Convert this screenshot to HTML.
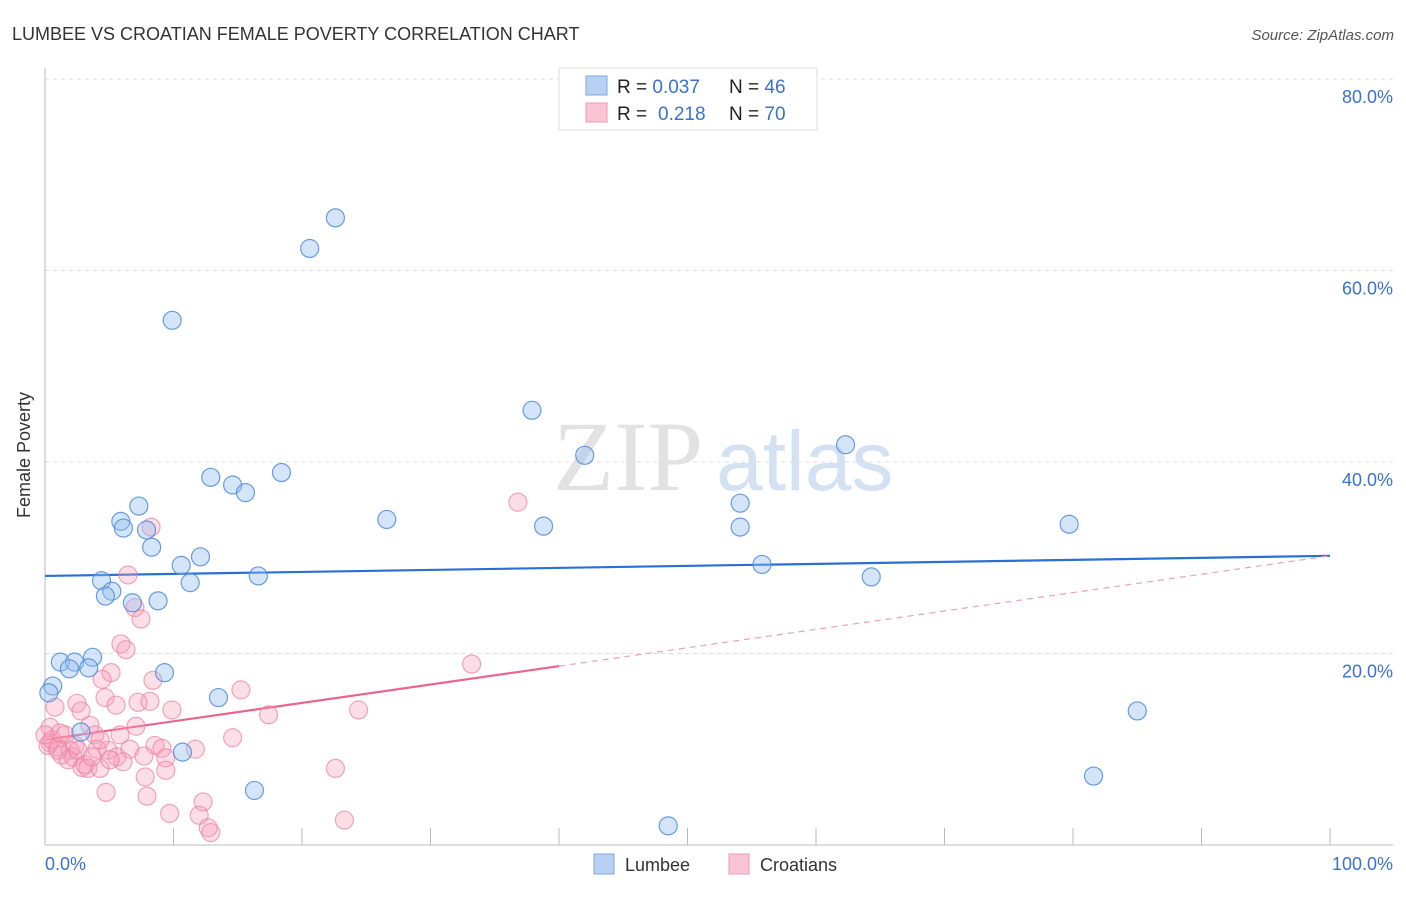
<!DOCTYPE html>
<html><head><meta charset="utf-8"><style>
body{margin:0;background:#fff;width:1406px;height:892px;overflow:hidden;font-family:"Liberation Sans",sans-serif}
svg text{font-family:"Liberation Sans",sans-serif}
</style></head><body>
<svg id="chart" width="1406" height="892" xmlns="http://www.w3.org/2000/svg">
<text x="12" y="40" font-size="18" fill="#333">LUMBEE VS CROATIAN FEMALE POVERTY CORRELATION CHART</text>
<text x="1394" y="40" font-size="15" fill="#555" font-style="italic" text-anchor="end">Source: ZipAtlas.com</text>
<g>
<text x="553" y="490" font-size="100" fill="#e2e2e2" font-family="Liberation Serif,serif" style="font-family:'Liberation Serif',serif">ZIP</text>
<text x="716" y="490" font-size="84" fill="#d3e1f3">atlas</text>
</g>
<g id="grid"></g>
<g id="axes"></g>
<g id="trends"></g>
<g id="points"></g>
<text x="30" y="455" font-size="18" fill="#333" text-anchor="middle" transform="rotate(-90 30 455)">Female Poverty</text>
<text x="45" y="870" font-size="18" fill="#3a72cc">0.0%</text>
<text x="1393" y="870" font-size="18" fill="#3a72cc" text-anchor="end">100.0%</text>
<g>
<rect x="559" y="68" width="258" height="62" fill="#fff" stroke="#ddd"/>
<rect x="586" y="76" width="21" height="19" fill="#b8d1f3" stroke="#7ba7e3"/>
<rect x="586" y="103" width="21" height="19" fill="#f9c4d3" stroke="#ee9ab5"/>
<text x="617" y="93" font-size="19" fill="#222">R = <tspan fill="#3a72cc">0.037</tspan><tspan x="729">N = </tspan><tspan fill="#3a72cc">46</tspan></text>
<text x="617" y="120" font-size="19" fill="#222">R = <tspan fill="#3a72cc" x="658">0.218</tspan><tspan x="729">N = </tspan><tspan fill="#3a72cc">70</tspan></text>
</g>
<g>
<rect x="594" y="854" width="20" height="20" fill="#b8d1f3" stroke="#7ba7e3"/>
<text x="625" y="871" font-size="18" fill="#333">Lumbee</text>
<rect x="729" y="854" width="20" height="20" fill="#f9c4d3" stroke="#ee9ab5"/>
<text x="760" y="871" font-size="18" fill="#333">Croatians</text>
</g>
</svg>
<script>
const yTicks=[20,40,60,80];
const yTickLabels=["20.0%","40.0%","60.0%","80.0%"];
const xTicks=[10,20,30,40,50,60,70,80,90,100];
const lumbeeX=[9.9,20.6,22.6,37.9,42.0,62.3,12.9,14.6,15.6,18.4,7.3,5.9,6.1,7.9,8.3,26.6,38.8,54.1,54.1,79.7,12.1,10.6,55.8,64.3,16.6,4.4,11.3,5.2,4.7,6.8,8.8,1.2,2.3,3.7,1.9,3.4,9.3,0.6,0.3,13.5,2.8,10.7,16.3,85.0,81.6,48.5];
const lumbeeY=[54.8,62.3,65.5,45.4,40.7,41.8,38.4,37.6,36.8,38.9,35.4,33.8,33.1,32.9,31.1,34.0,33.3,35.7,33.2,33.5,30.1,29.2,29.3,28.0,28.1,27.6,27.4,26.5,26.0,25.3,25.5,19.1,19.1,19.6,18.4,18.5,18.0,16.6,15.9,15.4,11.8,9.7,5.7,14.0,7.2,2.0];
const croatX=[8.25,6.46,7.0,7.47,5.91,6.3,5.14,4.44,8.4,15.25,4.67,5.53,2.49,2.8,7.24,8.17,9.88,24.4,17.4,7.08,3.5,0.39,5.84,3.89,1.56,14.6,0.39,1.0,1.95,4.05,4.9,5.6,6.6,8.56,9.1,11.7,7.7,9.4,2.18,2.88,3.35,4.28,6.07,9.4,7.8,22.6,4.75,7.94,12.3,9.7,12.0,23.3,12.7,12.9,36.8,33.2,0.78,0.23,1.3,2.33,3.1,0.54,1.8,4.28,2.57,1.17,3.66,5.06,0,1.0];
const croatY=[33.2,28.2,24.8,23.6,21.0,20.4,18.0,17.3,17.2,16.2,15.4,14.6,14.8,14.0,14.9,15.0,14.1,14.1,13.6,12.4,12.5,12.3,11.5,11.5,11.5,11.2,10.7,10.2,9.9,10.0,9.9,9.2,10.0,10.4,10.1,10.0,9.3,9.1,9.2,8.1,8.0,8.0,8.7,7.8,7.1,8.0,5.5,5.1,4.5,3.3,3.1,2.6,1.8,1.3,35.8,18.9,14.4,10.4,9.4,10.4,8.4,11.0,8.9,11.0,9.9,11.7,9.2,8.9,11.5,9.9];
const lumbeeTrend=[28.1,30.2];
const croatTrend=[11.0,30.2];
const croatSolidEnd=40;
const NS="http://www.w3.org/2000/svg";
const X0=45,X1=1330,Y0=845,YPX=9.575;
const sx=v=>X0+v*(X1-X0)/100;
const sy=v=>Y0-v*YPX;
function mk(t,a,p){const e=document.createElementNS(NS,t);for(const k in a)e.setAttribute(k,a[k]);p.appendChild(e);return e;}
const grid=document.getElementById('grid');
yTicks.forEach((v,i)=>{
 const l=mk('line',{x1:45,x2:1393,y1:sy(v),y2:sy(v),stroke:'#ddd','stroke-dasharray':'4,4'},grid);
 
 
 const t=mk('text',{x:1393,y:sy(v)+24,'font-size':18,fill:'#3a72cc','text-anchor':'end'},grid);
 t.textContent=yTickLabels[i];
 
 
});
const axes=document.getElementById('axes');
const ya=mk('line',{x1:45,x2:45,y1:68,y2:845,stroke:'#bbb'},axes);


const xa=mk('line',{x1:45,x2:1393,y1:845,y2:845,stroke:'#bbb'},axes);


xTicks.forEach(v=>{
 const t=mk('line',{x1:sx(v),x2:sx(v),y1:828,y2:845,stroke:'#bbb'},axes);
 
 
});
const pts=document.getElementById('points');
croatX.forEach((x,i)=>{
 const c=mk('circle',{cx:sx(x),cy:sy(croatY[i]),r:9,fill:'rgba(245,160,185,0.35)',stroke:'rgba(236,128,160,0.7)','stroke-width':1.2},pts);
 
 
});
lumbeeX.forEach((x,i)=>{
 const c=mk('circle',{cx:sx(x),cy:sy(lumbeeY[i]),r:9,fill:'rgba(150,190,240,0.4)',stroke:'rgba(80,140,220,0.85)','stroke-width':1.2},pts);
 
 
});
const tr=document.getElementById('trends');
const lb=mk('line',{x1:sx(0),y1:sy(lumbeeTrend[0]),x2:sx(100),y2:sy(lumbeeTrend[1]),stroke:'#2a6fd4','stroke-width':2.2},tr);


const cm=croatTrend[0]+(croatTrend[1]-croatTrend[0])*croatSolidEnd/100;
const cs=mk('line',{x1:sx(0),y1:sy(croatTrend[0]),x2:sx(croatSolidEnd),y2:sy(cm),stroke:'#e8668e','stroke-width':2.2},tr);


const cd=mk('line',{x1:sx(croatSolidEnd),y1:sy(cm),x2:sx(100),y2:sy(croatTrend[1]),stroke:'#eaa0b8','stroke-width':1.2,'stroke-dasharray':'6,5'},tr);


</script>
</body></html>
